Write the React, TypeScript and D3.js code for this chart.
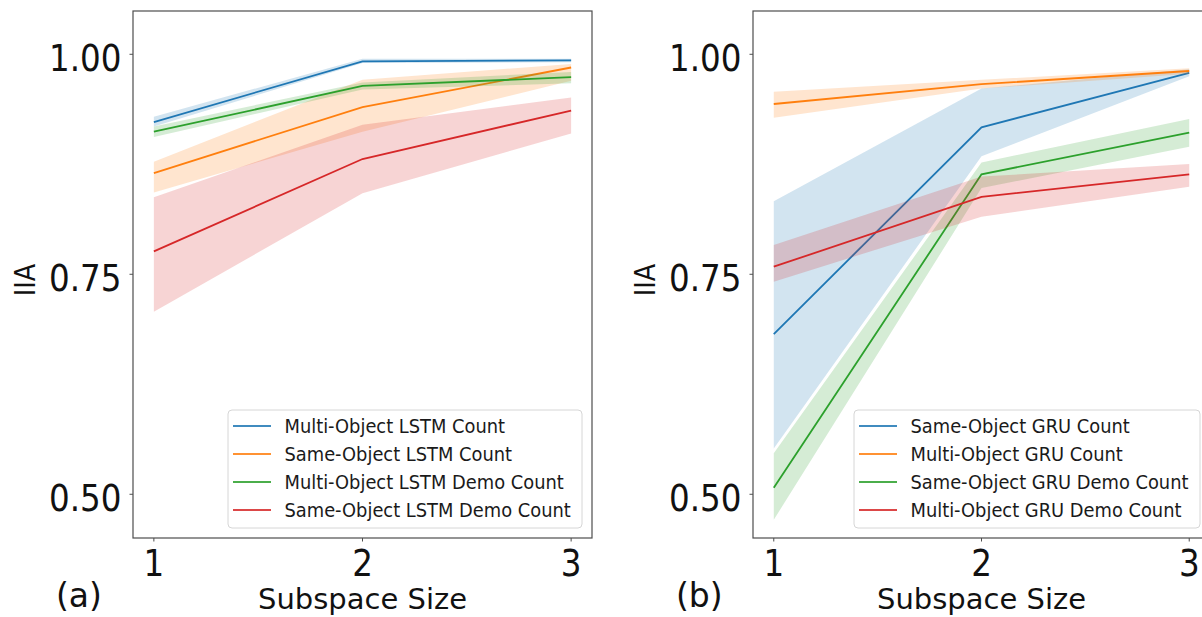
import React from "react";
import * as d3 from "d3";

// x values shared by both panels
const subspaceSizes = [1, 2, 3];
const xTicks = [1, 2, 3];
const yTicks = [0.5, 0.75, 1.0];

// panel (a): LSTM
const lstmLabels = [
  "Multi-Object LSTM Count",
  "Same-Object LSTM Count",
  "Multi-Object LSTM Demo Count",
  "Same-Object LSTM Demo Count",
];
const lstmMultiCount = [0.923, 0.992, 0.993];
const lstmMultiCountLo = [0.918, 0.99, 0.991];
const lstmMultiCountHi = [0.929, 0.995, 0.995];
const lstmSameCount = [0.865, 0.94, 0.985];
const lstmSameCountLo = [0.843, 0.912, 0.97];
const lstmSameCountHi = [0.878, 0.971, 0.989];
const lstmMultiDemo = [0.912, 0.964, 0.974];
const lstmMultiDemoLo = [0.906, 0.96, 0.967];
const lstmMultiDemoHi = [0.918, 0.968, 0.98];
const lstmSameDemo = [0.776, 0.881, 0.936];
const lstmSameDemoLo = [0.7075, 0.842, 0.91];
const lstmSameDemoHi = [0.8375, 0.92, 0.951];

// panel (b): GRU
const gruLabels = [
  "Same-Object GRU Count",
  "Multi-Object GRU Count",
  "Same-Object GRU Demo Count",
  "Multi-Object GRU Demo Count",
];
const gruSameCount = [0.682, 0.917, 0.979];
const gruSameCountLo = [0.552, 0.884, 0.975];
const gruSameCountHi = [0.833, 0.961, 0.983];
const gruMultiCount = [0.9435, 0.966, 0.981];
const gruMultiCountLo = [0.928, 0.961, 0.978];
const gruMultiCountHi = [0.9575, 0.971, 0.984];
const gruSameDemo = [0.5075, 0.8636, 0.911];
const gruSameDemoLo = [0.471, 0.848, 0.895];
const gruSameDemoHi = [0.5466, 0.877, 0.9265];
const gruMultiDemo = [0.7586, 0.838, 0.8636];
const gruMultiDemoLo = [0.7416, 0.8155, 0.8495];
const gruMultiDemoHi = [0.7833, 0.861, 0.8753];

const colors = ["#1f77b4", "#ff7f0e", "#2ca02c", "#d62728"];

type Series = { label: string; mean: number[]; lo: number[]; hi: number[] };

const lstmSeries: Series[] = [
  { label: lstmLabels[0], mean: lstmMultiCount, lo: lstmMultiCountLo, hi: lstmMultiCountHi },
  { label: lstmLabels[1], mean: lstmSameCount, lo: lstmSameCountLo, hi: lstmSameCountHi },
  { label: lstmLabels[2], mean: lstmMultiDemo, lo: lstmMultiDemoLo, hi: lstmMultiDemoHi },
  { label: lstmLabels[3], mean: lstmSameDemo, lo: lstmSameDemoLo, hi: lstmSameDemoHi },
];
const gruSeries: Series[] = [
  { label: gruLabels[0], mean: gruSameCount, lo: gruSameCountLo, hi: gruSameCountHi },
  { label: gruLabels[1], mean: gruMultiCount, lo: gruMultiCountLo, hi: gruMultiCountHi },
  { label: gruLabels[2], mean: gruSameDemo, lo: gruSameDemoLo, hi: gruSameDemoHi },
  { label: gruLabels[3], mean: gruMultiDemo, lo: gruMultiDemoLo, hi: gruMultiDemoHi },
];

const W = 1202;
const H = 617;
const top = 11;
const bottom = 538;
const font = "'DejaVu Sans', sans-serif";
const spine = "#4d4d4d";

type PanelProps = {
  left: number;
  right: number;
  series: Series[];
  tag: string;
  legendWidth: number;
};

const Panel: React.FC<PanelProps> = ({ left, right, series, tag, legendWidth }) => {
  const x = d3.scaleLinear().domain([0.9, 3.1]).range([left, right]);
  const y = d3.scaleLinear().domain([0.4503, 1.0492]).range([bottom, top]);

  const line = d3
    .line<number>()
    .x((_, i) => x(subspaceSizes[i]))
    .y((d) => y(d));

  const area = (s: Series) =>
    d3
      .area<number>()
      .x((_, i) => x(subspaceSizes[i]))
      .y0((_, i) => y(s.lo[i]))
      .y1((_, i) => y(s.hi[i]))(s.mean) as string;

  const lgRight = right - 10;
  const lgBottom = bottom - 10;
  const lgH = 118;
  const lgX = lgRight - legendWidth;
  const lgY = lgBottom - lgH;

  return (
    <g>
      {series.map((s, i) => (
        <g key={s.label}>
          <path d={area(s)} fill={colors[i]} fillOpacity={0.2} stroke="none" />
          <path d={line(s.mean) as string} fill="none" stroke={colors[i]} strokeWidth={1.8} />
        </g>
      ))}

      {/* spines */}
      <rect
        x={left}
        y={top}
        width={right - left}
        height={bottom - top}
        fill="none"
        stroke={spine}
        strokeWidth={1.2}
      />

      {/* y axis */}
      {yTicks.map((t) => (
        <g key={t}>
          <line x1={left - 3.5} x2={left} y1={y(t)} y2={y(t)} stroke={spine} strokeWidth={1} />
          <text
            transform={`translate(${left - 11.5},${y(t) + 16.4}) scale(0.88,1)`}
            textAnchor="end"
            fontSize={37}
            fontFamily={font}
            fill="#111"
          >
            {t.toFixed(2)}
          </text>
        </g>
      ))}
      <text
        transform={`translate(${left - 108},280) rotate(-90) scale(0.88,1)`}
        textAnchor="middle"
        dominantBaseline="central"
        fontSize={29}
        fontFamily={font}
        fill="#111"
      >
        IIA
      </text>

      {/* x axis */}
      {xTicks.map((t) => (
        <g key={t}>
          <line x1={x(t)} x2={x(t)} y1={bottom} y2={bottom + 3.5} stroke={spine} strokeWidth={1} />
          <text
            transform={`translate(${x(t)},576) scale(0.88,1)`}
            textAnchor="middle"
            fontSize={37}
            fontFamily={font}
            fill="#111"
          >
            {t}
          </text>
        </g>
      ))}
      <text x={x(2)} y={609} textAnchor="middle" fontSize={29} fontFamily={font} fill="#111">
        Subspace Size
      </text>
      <text x={left - 77} y={607} fontSize={33} fontFamily={font} fill="#111">
        {tag}
      </text>

      {/* legend */}
      <rect
        x={lgX}
        y={lgY}
        width={legendWidth}
        height={lgH}
        rx={4}
        fill="#fff"
        fillOpacity={0.8}
        stroke="#d6d6d6"
        strokeWidth={1}
      />
      {series.map((s, i) => {
        const cy = lgY + 16 + i * 28;
        return (
          <g key={s.label}>
            <line
              x1={lgX + 5}
              x2={lgX + 43}
              y1={cy}
              y2={cy}
              stroke={colors[i]}
              strokeWidth={2.2}
              strokeOpacity={0.85}
            />
            <text
              transform={`translate(${lgX + 56.5},${cy + 7}) scale(0.94,1)`}
              fontSize={19}
              fontFamily={font}
              fill="#1a1a1a"
            >
              {s.label}
            </text>
          </g>
        );
      })}
    </g>
  );
};

export default function App() {
  return (
    <div style={{ position: "absolute", left: 0, top: 0, width: W, height: H, background: "#fff" }}>
      <svg width={W} height={H} viewBox={`0 0 ${W} ${H}`} style={{ display: "block" }}>
        <rect width={W} height={H} fill="#fff" />
        <Panel left={133} right={592} series={lstmSeries} tag="(a)" legendWidth={354} />
        <Panel left={753} right={1210} series={gruSeries} tag="(b)" legendWidth={346} />
      </svg>
    </div>
  );
}
